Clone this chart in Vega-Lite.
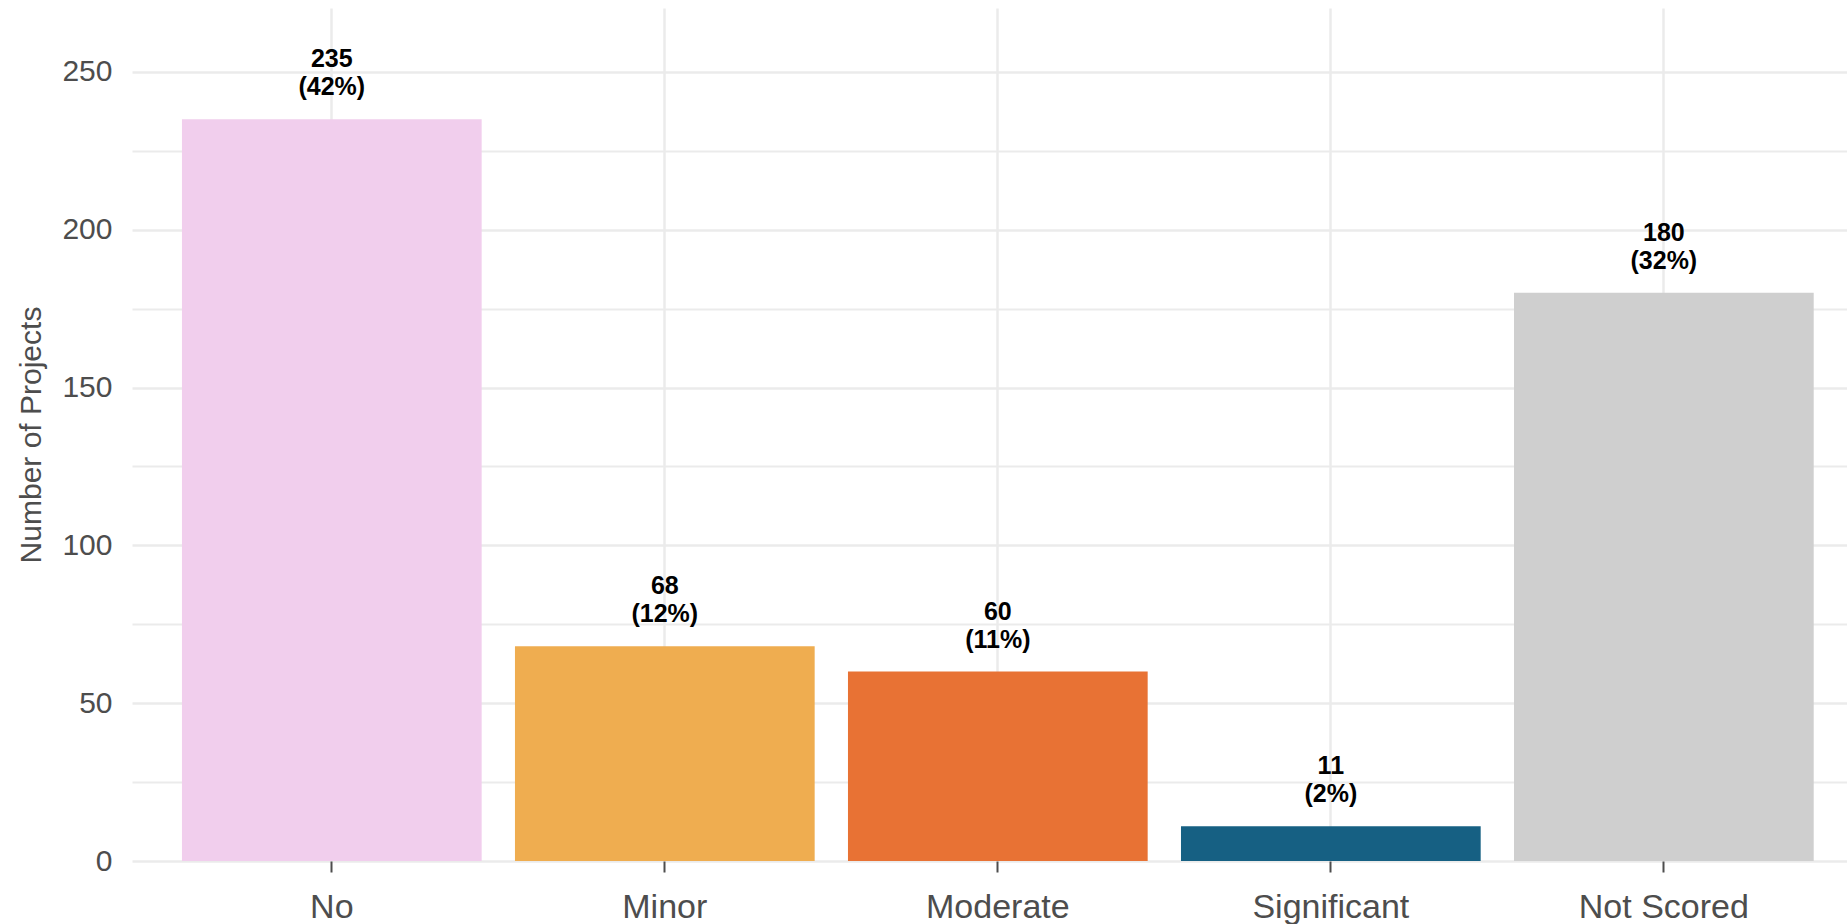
{
  "$schema": "https://vega.github.io/schema/vega-lite/v6.json",
  "autosize": {"type": "none"},
  "padding": {"left": 132, "top": 8, "right": 0, "bottom": 63},
  "width": 1715,
  "height": 853,
  "background": "white",
  "config": {
    "font": "Liberation Sans",
    "view": {"stroke": null}
  },
  "data": {
    "values": [
      {"category": "No", "count": 235, "label": "235\n(42%)"},
      {"category": "Minor", "count": 68, "label": "68\n(12%)"},
      {"category": "Moderate", "count": 60, "label": "60\n(11%)"},
      {"category": "Significant", "count": 11, "label": "11\n(2%)"},
      {"category": "Not Scored", "count": 180, "label": "180\n(32%)"}
    ]
  },
  "encoding": {
    "x": {
      "field": "category",
      "type": "nominal",
      "sort": ["No", "Minor", "Moderate", "Significant", "Not Scored"],
      "scale": {"paddingInner": 0.1, "paddingOuter": 0.125, "align": 0.6},
      "axis": {
        "title": null,
        "labelAngle": 0,
        "labelFontSize": 34,
        "labelColor": "#4D4D4D",
        "labelBaseline": "alphabetic",
        "labelPadding": 45,
        "domain": false,
        "ticks": true,
        "tickSize": 11,
        "tickWidth": 2,
        "tickColor": "#4D4D4D",
        "grid": true,
        "gridColor": "#EBEBEB",
        "gridWidth": 2.5
      }
    },
    "y": {
      "field": "count",
      "type": "quantitative",
      "scale": {"domain": [0, 270.25], "nice": false, "zero": true}
    }
  },
  "layer": [
    {
      "mark": {"type": "bar"},
      "encoding": {
        "y": {
          "field": "count",
          "type": "quantitative",
          "scale": {"domain": [0, 270.25], "nice": false},
          "axis": {
            "orient": "left",
            "title": "Number of Projects",
            "titleFontSize": 30,
            "titleFontWeight": "normal",
            "titleColor": "#4D4D4D",
            "titlePadding": 15,
            "values": [0, 50, 100, 150, 200, 250],
            "labelFontSize": 30,
            "labelColor": "#4D4D4D",
            "labelPadding": 20,
            "ticks": false,
            "tickSize": 0,
            "domain": false,
            "grid": true,
            "gridColor": "#EBEBEB",
            "gridWidth": 2.5
          }
        },
        "color": {
          "field": "category",
          "type": "nominal",
          "scale": {
            "domain": ["No", "Minor", "Moderate", "Significant", "Not Scored"],
            "range": ["#F1CEED", "#EFAD50", "#E87234", "#166083", "#CFCFCF"]
          },
          "legend": null
        }
      }
    },
    {
      "mark": {
        "type": "text",
        "fontWeight": "bold",
        "fontSize": 25,
        "lineHeight": 28,
        "lineBreak": "\n",
        "baseline": "alphabetic",
        "align": "center",
        "dy": -52,
        "color": "black"
      },
      "encoding": {
        "y": {
          "field": "count",
          "type": "quantitative",
          "scale": {"domain": [0, 270.25], "nice": false},
          "axis": {
            "orient": "left",
            "title": null,
            "values": [25, 75, 125, 175, 225],
            "labels": false,
            "ticks": false,
            "domain": false,
            "grid": true,
            "gridColor": "#EBEBEB",
            "gridWidth": 1.8
          }
        },
        "text": {"field": "label"}
      }
    }
  ],
  "resolve": {"axis": {"y": "independent"}}
}
